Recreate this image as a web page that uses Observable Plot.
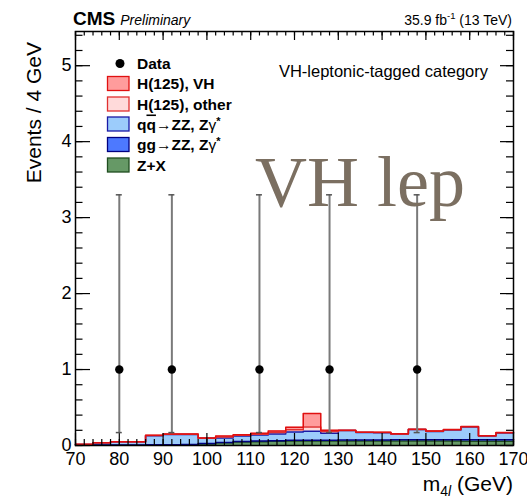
<!DOCTYPE html>
<html><head><meta charset="utf-8">
<script src="https://cdn.jsdelivr.net/npm/d3@7"></script>
<script src="https://cdn.jsdelivr.net/npm/@observablehq/plot@0.6"></script>
<style>
body{margin:0;background:#fff;}
#wrap{position:relative;width:527px;height:502px;overflow:hidden;}
#wrap svg{position:absolute;left:0;top:0;}
</style></head><body><div id="wrap"></div>
<script>
// ---- data ----
const binLow = [70,74,78,82,86,90,94,98,102,106,110,114,118,122,126,130,134,138,142,146,150,154,158,162,166];
const binWidth = 4;
const zPlusX = [0.003,0.003,0.004,0.004,0.005,0.006,0.008,0.020,0.035,0.045,0.050,0.055,0.058,0.058,0.058,0.060,0.060,0.060,0.060,0.060,0.058,0.058,0.057,0.056,0.055];
const ggZZ   = [0.002,0.003,0.003,0.003,0.004,0.004,0.004,0.005,0.006,0.007,0.008,0.009,0.010,0.011,0.011,0.012,0.013,0.014,0.015,0.016,0.017,0.018,0.019,0.020,0.020];
const qqZZ   = [0.008,0.029,0.041,0.041,0.120,0.136,0.134,0.069,0.059,0.073,0.080,0.088,0.110,0.118,0.091,0.124,0.098,0.095,0.076,0.133,0.110,0.129,0.169,0.049,0.090];
const hOther = [0.001,0.001,0.001,0.001,0.003,0.003,0.003,0.003,0.012,0.009,0.011,0.018,0.030,0.058,0.025,0.002,0.002,0.002,0.002,0.002,0.002,0.002,0.002,0.002,0.002];
const hVH    = [0.001,0.001,0.001,0.001,0.003,0.003,0.003,0.003,0.013,0.009,0.011,0.020,0.032,0.175,0.015,0.002,0.003,0.003,0.003,0.003,0.003,0.003,0.003,0.003,0.003];

const dataMass  = [80,92,112,128,148];
const dataCount = [1,1,1,1,1];
const dataLow   = [0.17,0.17,0.17,0.17,0.17];
const dataHigh  = [3.30,3.30,3.30,3.30,3.30];

const xTicks = [70,80,90,100,110,120,130,140,150,160,170];
const yTicks = [0,1,2,3,4,5];
const xMinorStep = 2, yMinorStep = 0.2;

const seriesNames = ["Z+X","gg→ZZ, Zγ*","qq̄→ZZ, Zγ*","H(125), other","H(125), VH"];
const seriesValues = [zPlusX, ggZZ, qqZZ, hOther, hVH];
const fillColor = {"Z+X":"#669966","gg→ZZ, Zγ*":"#4d79ff","qq̄→ZZ, Zγ*":"#9cccfb","H(125), other":"#ffdada","H(125), VH":"#ff9c9c"};
const lineColor = {"Z+X":"#1f4d1f","gg→ZZ, Zγ*":"#000080","qq̄→ZZ, Zγ*":"#1a1aa6","H(125), other":"#e03030","H(125), VH":"#e01010"};

// ---- layout ----
const W = 527, H = 502, mL = 75, mR = 14, mT = 31, mB = 57;
const fw = W - mL - mR, fh = H - mT - mB;
const xDomain = [70,170], yDomain = [0,5.45];

const rows = [];
seriesNames.forEach((s, k) => {
  binLow.forEach((m, i) => rows.push({s, m, v: seriesValues[k][i]}));
  rows.push({s, m: binLow[binLow.length-1] + binWidth, v: seriesValues[k][binLow.length-1]});
});
const pts = dataMass.map((m,i) => ({m, n: dataCount[i], lo: dataLow[i], hi: dataHigh[i]}));
const xMinor = d3.range(xDomain[0], xDomain[1] + 1e-9, xMinorStep);
const yMinor = d3.range(0, yDomain[1], yMinorStep).map(v => +v.toFixed(2));
const capHalf = 3 * (xDomain[1]-xDomain[0]) / fw;

const plot = Plot.plot({
  width: W, height: H, marginLeft: mL, marginRight: mR, marginTop: mT, marginBottom: mB,
  style: {fontFamily: "'Liberation Sans', Arial, Helvetica, sans-serif", background: "transparent", color: "black"},
  x: {domain: xDomain}, y: {domain: yDomain},
  color: {type: "identity"},
  marks: [
    Plot.areaY(rows, {x: "m", y: "v", z: "s", order: seriesNames, curve: "step-after", fill: d => fillColor[d.s]}),
    Plot.lineY(rows, Plot.stackY2({x: "m", y: "v", z: "s", order: seriesNames, curve: "step-after", stroke: d => lineColor[d.s], strokeWidth: 1.5})),
    // axis ticks (inward, ROOT-style)
    Plot.ruleX(xMinor, {x: d => d, insetTop: fh - 6, stroke: "black", strokeWidth: 1.2}),
    Plot.ruleX(xTicks, {x: d => d, insetTop: fh - 12, stroke: "black", strokeWidth: 1.2}),
    Plot.ruleX(xMinor, {x: d => d, insetBottom: fh - 4.5, stroke: "black", strokeWidth: 1.2}),
    Plot.ruleX(xTicks, {x: d => d, insetBottom: fh - 9, stroke: "black", strokeWidth: 1.2}),
    Plot.ruleY(yMinor, {y: d => d, insetRight: fw - 7.5, stroke: "black", strokeWidth: 1.2}),
    Plot.ruleY(yTicks, {y: d => d, insetRight: fw - 15, stroke: "black", strokeWidth: 1.2}),
    Plot.ruleY(yMinor, {y: d => d, insetLeft: fw - 7, stroke: "black", strokeWidth: 1.2}),
    Plot.ruleY(yTicks, {y: d => d, insetLeft: fw - 13, stroke: "black", strokeWidth: 1.2}),
    // data
    Plot.ruleX(pts, {x: "m", y1: "lo", y2: "hi", stroke: "#7a7a7a", strokeWidth: 2}),
    Plot.ruleY(pts, {y: "lo", x1: d => d.m - capHalf, x2: d => d.m + capHalf, stroke: "#555", strokeWidth: 1.5}),
    Plot.ruleY(pts, {y: "hi", x1: d => d.m - capHalf, x2: d => d.m + capHalf, stroke: "#555", strokeWidth: 1.5}),
    Plot.dot(pts, {x: "m", y: "n", r: 4.2, fill: "black", stroke: "none"}),
    Plot.frame({stroke: "black", strokeWidth: 1.5}),
    Plot.axisX({ticks: xTicks, tickSize: 0, tickPadding: 7, fontSize: 18, label: null, tickFormat: d => String(d)}),
    Plot.axisY({ticks: yTicks, tickSize: 0, tickPadding: 4, fontSize: 18, label: null, tickFormat: d => String(d)})
  ]
});
document.getElementById("wrap").appendChild(plot);

// ---- text overlay ----
const ov = d3.select("#wrap").append("svg").attr("width", W).attr("height", H)
  .style("font-family", "'Liberation Sans', Arial, Helvetica, sans-serif");

const cms = ov.append("text").attr("x", 73).attr("y", 25);
cms.append("tspan").attr("font-weight", "bold").attr("font-size", 19).text("CMS");
cms.append("tspan").attr("font-style", "italic").attr("font-size", 14).attr("dx", 5).text("Preliminary");

const lumi = ov.append("text").attr("x", 512).attr("y", 25).attr("text-anchor", "end").attr("font-size", 14);
lumi.append("tspan").text("35.9 fb");
lumi.append("tspan").attr("font-size", 9.5).attr("dy", -6).text("-1");
lumi.append("tspan").attr("dy", 6).text(" (13 TeV)");

ov.append("text").attr("x", 488).attr("y", 77).attr("text-anchor", "end").attr("font-size", 16.5).text("VH-leptonic-tagged category");

ov.append("text").attr("x", 255).attr("y", 206).attr("font-family", "'Liberation Serif', 'Times New Roman', serif")
  .attr("font-size", 72).attr("fill", "#7b6f61").text("VH lep");

ov.append("text").attr("transform", "translate(41,42) rotate(-90)").attr("text-anchor", "end").attr("font-size", 21).text("Events / 4 GeV");

const xl = ov.append("text").attr("x", 513).attr("y", 491).attr("text-anchor", "end").attr("font-size", 21);
xl.append("tspan").text("m");
xl.append("tspan").attr("font-size", 14).attr("dy", 5).text("4");
xl.append("tspan").attr("font-size", 14).attr("font-style", "italic").text("l");
xl.append("tspan").attr("dy", -5).text(" (GeV)");

// legend
const legRows = [63.5, 83.5, 104, 124, 144.5, 165];
const legLabels = ["Data", "H(125), VH", "H(125), other", null, null, "Z+X"];
const legKeys = [null, "H(125), VH", "H(125), other", "qq̄→ZZ, Zγ*", "gg→ZZ, Zγ*", "Z+X"];
ov.append("circle").attr("cx", 120).attr("cy", legRows[0]).attr("r", 4.5).attr("fill", "black");
legKeys.forEach((k, i) => {
  if (!k) return;
  ov.append("rect").attr("x", 107.5).attr("y", legRows[i] - 7).attr("width", 21.5).attr("height", 14)
    .attr("fill", fillColor[k]).attr("stroke", lineColor[k]).attr("stroke-width", 1.3);
});
legRows.forEach((y, i) => {
  const t = ov.append("text").attr("x", 137).attr("y", y + 5.5).attr("font-size", 15.5).attr("font-weight", "bold");
  if (i === 3 || i === 4) {
    if (i === 3) {
      t.append("tspan").text("q");
      t.append("tspan").attr("text-decoration", "overline").text("q");
    } else t.append("tspan").text("gg");
    t.append("tspan").text("→ZZ, Z");
    t.append("tspan").attr("font-weight", "normal").text("γ");
    t.append("tspan").attr("font-size", 11).attr("dy", -5).text("*");
  } else t.text(legLabels[i]);
});
</script></body></html>
